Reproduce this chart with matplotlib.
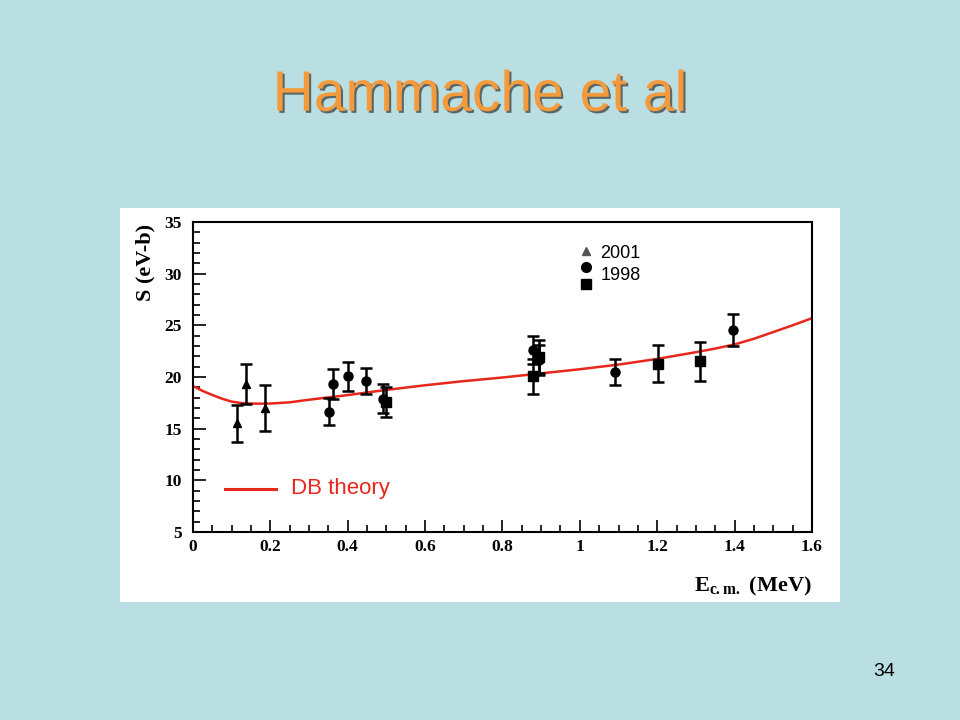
import matplotlib
matplotlib.use("Agg")
import matplotlib.pyplot as plt
import matplotlib.patheffects as pe
from matplotlib.ticker import MultipleLocator

plt.rcParams["mathtext.fontset"] = "custom"
plt.rcParams["mathtext.rm"] = "Liberation Serif"
plt.rcParams["mathtext.bf"] = "Liberation Serif:bold"

# data
tri_x = [0.114, 0.136, 0.186]
tri_y = [15.5, 19.3, 17.0]
tri_err = [1.8, 1.95, 2.2]

circ_x = [0.351, 0.361, 0.401, 0.446, 0.491, 0.878, 0.894, 1.092, 1.396]
circ_y = [16.65, 19.3, 20.05, 19.6, 17.9, 22.6, 21.65, 20.45, 24.55]
circ_err = [1.3, 1.45, 1.4, 1.25, 1.4, 1.35, 1.45, 1.27, 1.55]

sq_x = [0.498, 0.878, 0.894, 1.201, 1.311]
sq_y = [17.55, 20.05, 21.95, 21.3, 21.5]
sq_err = [1.45, 1.65, 1.6, 1.75, 1.85]

theory_x = [0, 0.025, 0.05, 0.075, 0.1, 0.12, 0.135, 0.15, 0.175, 0.2, 0.25, 0.3,
            0.4, 0.5, 0.6, 0.7, 0.8, 0.9, 1.0, 1.1, 1.2, 1.3, 1.35, 1.4, 1.45,
            1.5, 1.55, 1.6]
theory_y = [19.13, 18.65, 18.26, 17.9, 17.62, 17.5, 17.45, 17.43, 17.42, 17.43, 17.55, 17.8,
            18.25, 18.75, 19.2, 19.6, 19.95, 20.35, 20.75, 21.2, 21.75, 22.4, 22.75, 23.15, 23.7,
            24.35, 25.0, 25.69]

BG = "#B9DFE3"
RED = "#E8261C"

fig = plt.figure(figsize=(9.6, 7.2), dpi=100, facecolor=BG)

# title
fig.text(0.5, 0.867, "Hammache et al", ha="center", va="center",
         fontsize=41, color="#F59A3A", family="Liberation Sans",
         path_effects=[pe.withSimplePatchShadow(offset=(1.5, -1.5), shadow_rgbFace="#333333", alpha=0.7)])
fig.text(0.921, 0.067, "34", ha="center", va="center", fontsize=14,
         family="Liberation Sans", color="black")

# white panel behind the plot
panel = fig.add_axes([0.125, 0.1639, 0.75, 0.5472])
panel.set_facecolor("white")
panel.set_xticks([])
panel.set_yticks([])
for s in panel.spines.values():
    s.set_visible(False)

ax = fig.add_axes([0.2010, 0.2611, 0.6448, 0.4306])
ax.set_facecolor("white")

ax.plot(theory_x, theory_y, color=RED, lw=1.8, zorder=2)

eb = dict(ecolor="black", elinewidth=1.8, capsize=4, capthick=1.8, ls="none", zorder=3)
ax.errorbar(tri_x, tri_y, yerr=tri_err, marker="^", ms=6, mfc="black", mec="black", **eb)
ax.errorbar(circ_x, circ_y, yerr=circ_err, marker="o", ms=6.5, mfc="black", mec="black", **eb)
ax.errorbar(sq_x, sq_y, yerr=sq_err, marker="s", ms=6.5, mfc="black", mec="black", **eb)

ax.set_xlim(0, 1.6)
ax.set_ylim(5, 35)
ax.xaxis.set_major_locator(MultipleLocator(0.2))
ax.xaxis.set_minor_locator(MultipleLocator(0.05))
ax.yaxis.set_major_locator(MultipleLocator(5))
ax.yaxis.set_minor_locator(MultipleLocator(1))
ax.tick_params(which="both", direction="in", top=False, right=False, width=1.2)
ax.tick_params(which="major", length=9)
ax.tick_params(which="minor", length=5)
ax.set_xticklabels([f"{v:g}" for v in ax.get_xticks()])
for lab in ax.get_xticklabels() + ax.get_yticklabels():
    lab.set_family("Liberation Serif")
    lab.set_fontweight("bold")
    lab.set_fontsize(12.5)
ax.tick_params(axis="x", pad=5)
ax.tick_params(axis="y", pad=8)
for s in ax.spines.values():
    s.set_linewidth(1.5)

ax.set_ylabel("S (eV-b)", family="Liberation Serif", fontweight="bold", fontsize=16)
ax.yaxis.set_label_coords(-0.06, 0.87)
ax.set_xlabel(r"$\mathbf{E_{c.m.}}$ (MeV)", family="Liberation Serif",
              fontweight="bold", fontsize=16)
ax.xaxis.set_label_coords(1.0, -0.14)
ax.xaxis.label.set_ha("right")

# legend, drawn by hand as on the slide
ax.plot([0.635], [0.905], marker="^", ms=6, color="#555555", transform=ax.transAxes)
ax.plot([0.635], [0.855], marker="o", ms=7, color="black", transform=ax.transAxes)
ax.plot([0.635], [0.80], marker="s", ms=7, color="black", transform=ax.transAxes)
ax.text(0.658, 0.897, "2001", transform=ax.transAxes, fontsize=13,
        family="Liberation Sans", va="center")
ax.text(0.658, 0.826, "1998", transform=ax.transAxes, fontsize=13,
        family="Liberation Sans", va="center")

ax.plot([0.052, 0.134], [0.139, 0.139], color=RED, lw=2.2, transform=ax.transAxes)
ax.text(0.158, 0.139, "DB theory", transform=ax.transAxes, fontsize=16,
        family="Liberation Sans", color=RED, va="center")

fig.savefig("out.png", dpi=100, facecolor=BG)
